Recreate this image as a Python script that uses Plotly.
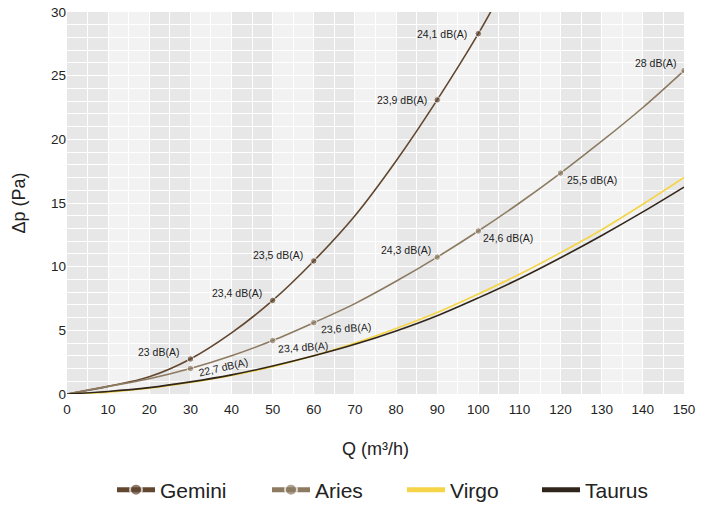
import plotly.graph_objects as go

# ===============================
#  Datos
# ===============================

Q = [0, 10, 20, 30, 40, 50, 60, 70, 80, 90, 100, 110, 120, 130, 140, 150]

gemini_q = [0, 10, 20, 30, 40, 50, 60, 70, 80, 90, 100, 104]
gemini_dp = [0, 0.6, 1.35, 2.75, 4.8, 7.35, 10.45, 14.0, 18.3, 23.1, 28.3, 30.6]

aries_dp = [0, 0.6, 1.2, 2.0, 3.0, 4.2, 5.6, 7.1, 8.85, 10.75, 12.8, 15.0, 17.35, 19.85, 22.5, 25.4]
virgo_dp = [0, 0.15, 0.45, 0.9, 1.45, 2.15, 3.0, 4.0, 5.15, 6.4, 7.85, 9.4, 11.1, 12.9, 14.9, 17.0]
taurus_dp = [0, 0.2, 0.5, 0.95, 1.5, 2.2, 3.0, 3.9, 4.95, 6.15, 7.55, 9.05, 10.7, 12.45, 14.3, 16.25]

# puntos con nivel sonoro
gemini_pts_q = [30, 50, 60, 90, 100]
gemini_pts_dp = [2.75, 7.35, 10.45, 23.1, 28.3]
gemini_labels = ["23 dB(A)", "23,4 dB(A)", "23,5 dB(A)", "23,9 dB(A)", "24,1 dB(A)"]

aries_pts_q = [30, 50, 60, 90, 100, 120, 150]
aries_pts_dp = [2.0, 4.2, 5.6, 10.75, 12.8, 17.35, 25.4]
aries_labels = ["22,7 dB(A)", "23,4 dB(A)", "23,6 dB(A)", "24,3 dB(A)",
                "24,6 dB(A)", "25,5 dB(A)", "28 dB(A)"]

# ===============================
#  Estilo
# ===============================

COLORS = {
    "Gemini": "#624730",
    "Aries": "#8c7a61",
    "Virgo": "#f5d547",
    "Taurus": "#30251a",
}
FONT = "'Liberation Sans', Arial, sans-serif"
TXT = "#222222"

# desplazamiento (px) y ángulo de cada etiqueta
gemini_offsets = [(-32, 7, 0), (-36, 7, 0), (-36, 6, 0), (-35, 0, 0), (-36, 0, 0)]
aries_offsets = [(33, 2, -13), (30, -6, -4), (32, -5, -3), (-31, 7, 0),
                 (30, -7, 0), (31, -7, 0), (-29, 8, 0)]

# ancho de cada entrada de la leyenda (px)
legend_widths = {"Gemini": 102, "Aries": 82, "Virgo": 82, "Taurus": 80}


def marker_sizes(xs, pts):
    return [6.5 if x in pts else 0 for x in xs]


fig = go.Figure()

fig.add_trace(go.Scatter(
    x=gemini_q, y=gemini_dp, name="Gemini", mode="lines+markers",
    line=dict(color=COLORS["Gemini"], width=1.6, shape="spline"),
    marker=dict(size=marker_sizes(gemini_q, gemini_pts_q), color=COLORS["Gemini"]),
    legendwidth=legend_widths["Gemini"],
))
fig.add_trace(go.Scatter(
    x=Q, y=aries_dp, name="Aries", mode="lines+markers",
    line=dict(color=COLORS["Aries"], width=1.6, shape="spline"),
    marker=dict(size=marker_sizes(Q, aries_pts_q), color=COLORS["Aries"]),
    legendwidth=legend_widths["Aries"],
))
fig.add_trace(go.Scatter(
    x=Q, y=virgo_dp, name="Virgo", mode="lines",
    line=dict(color=COLORS["Virgo"], width=1.6, shape="spline"),
    legendwidth=legend_widths["Virgo"],
))
fig.add_trace(go.Scatter(
    x=Q, y=taurus_dp, name="Taurus", mode="lines",
    line=dict(color=COLORS["Taurus"], width=1.6, shape="spline"),
    legendwidth=legend_widths["Taurus"],
))

# etiquetas dB(A)
for xs, ys, labels, offs in [(gemini_pts_q, gemini_pts_dp, gemini_labels, gemini_offsets),
                             (aries_pts_q, aries_pts_dp, aries_labels, aries_offsets)]:
    for x, y, txt, (dx, dy, ang) in zip(xs, ys, labels, offs):
        fig.add_annotation(
            x=x, y=y, text=txt, showarrow=False,
            xshift=dx, yshift=dy, textangle=ang,
            font=dict(family=FONT, size=10.5, color=TXT),
        )

# bandas de fondo alternas cada 10 m3/h
for start in range(0, 150, 20):
    fig.add_shape(type="rect", xref="x", yref="paper", x0=start, x1=start + 10,
                  y0=0, y1=1, fillcolor="#e7e7e7", line_width=0, layer="below")

fig.update_xaxes(
    range=[0, 150], dtick=10, showgrid=True, gridcolor="white", gridwidth=1.3,
    minor=dict(dtick=5, showgrid=True, gridcolor="white", gridwidth=1),
    zeroline=False, showline=False, ticks="", automargin=False, ticklabelstandoff=5,
    tickfont=dict(family=FONT, size=13.5, color=TXT),
    title=dict(text="Q (m³/h)", font=dict(family=FONT, size=18, color=TXT), standoff=26),
)
fig.update_yaxes(
    range=[0, 30], dtick=5, showgrid=True, gridcolor="white", gridwidth=1.3,
    minor=dict(dtick=1, showgrid=True, gridcolor="white", gridwidth=1),
    zeroline=False, showline=False, ticks="", automargin=False,
    tickfont=dict(family=FONT, size=13.5, color=TXT),
    title=dict(text="Δp (Pa)", font=dict(family=FONT, size=18, color=TXT), standoff=20),
)

fig.update_layout(
    width=713, height=507,
    margin=dict(l=67, r=29, t=12, b=113),
    plot_bgcolor="#f2f2f2", paper_bgcolor="white",
    showlegend=True,
    legend=dict(
        orientation="h", xref="container", yref="container",
        x=112 / 713, xanchor="left", y=1 - 490 / 507, yanchor="middle",
        font=dict(family=FONT, size=21, color=TXT),
        itemsizing="constant", itemwidth=38, traceorder="normal",
    ),
)

# la página no debe desplazar la figura
fig.write_html("out.html", config={"displayModeBar": False},
               post_script="document.body.style.margin = '0px';")
